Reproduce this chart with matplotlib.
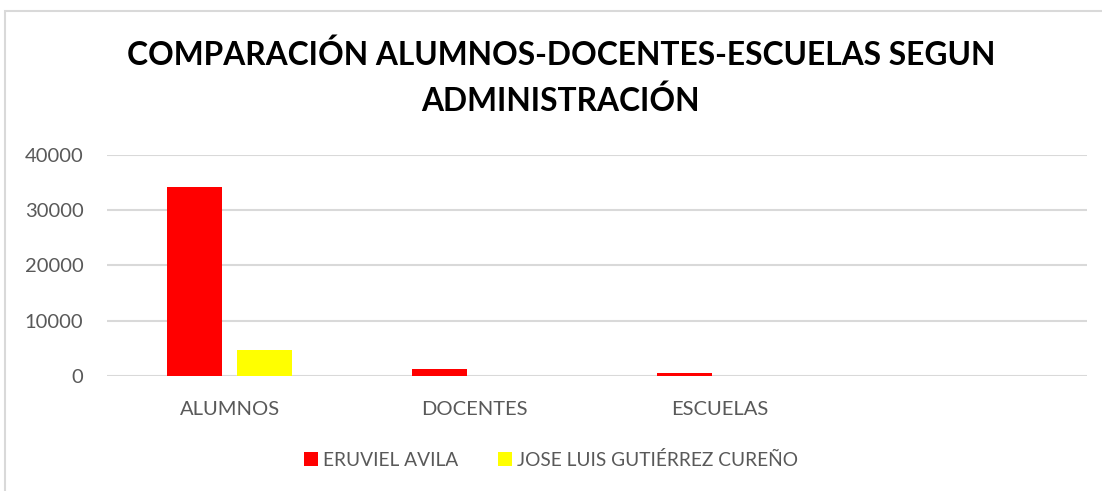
import matplotlib
matplotlib.use('Agg')
import matplotlib.pyplot as plt
import numpy as np
from matplotlib.patches import Rectangle

# values
categories = ['ALUMNOS', 'DOCENTES', 'ESCUELAS', '']
eruviel_avila = [34200, 1300, 500, 0]
gutierrez_cureno = [4600, 0, 0, 0]
series_names = ['ERUVIEL AVILA', 'JOSE LUIS GUTIÉRREZ CUREÑO']
y_ticks = [0, 10000, 20000, 30000, 40000]

red = '#ff0000'
yellow = '#ffff00'
text_grey = '#595959'
grid_grey = '#d9d9d9'

plt.rcParams['font.family'] = ['Lato', 'DejaVu Sans']

fig = plt.figure(figsize=(11.02, 4.91), dpi=100)
fig.patches.append(Rectangle((5 / 1102, -0.1), 1.2, 1 - 11 / 491 + 0.1, transform=fig.transFigure,
                             fill=False, edgecolor=grid_grey, linewidth=1.5))

ax = fig.add_axes([107 / 1102, 115.3 / 491, 980 / 1102, 220.7 / 491])

x = np.arange(len(categories))
bar_w = 0.2245
offset = 0.143
ax.bar(x - offset, eruviel_avila, bar_w, color=red, label=series_names[0], zorder=3)
ax.bar(x + offset, gutierrez_cureno, bar_w, color=yellow, label=series_names[1], zorder=3)

ax.set_xlim(-0.5, len(categories) - 0.5)
ax.set_ylim(0, 40000)
ax.set_yticks(y_ticks)
ax.set_yticklabels([str(v) for v in y_ticks])
ax.set_xticks(x)
ax.set_xticklabels(categories)
ax.grid(axis='y', color=grid_grey, linewidth=1.5, zorder=0)
ax.set_axisbelow(True)
for s in ax.spines.values():
    s.set_visible(False)
ax.tick_params(axis='both', length=0, colors=text_grey, labelsize=14.5)
ax.tick_params(axis='y', pad=17)
ax.tick_params(axis='x', pad=18)

fig.text(0.509, 0.842, 'COMPARACIÓN ALUMNOS-DOCENTES-ESCUELAS SEGUN\nADMINISTRACIÓN',
         ha='center', va='center', fontsize=22.9, fontweight='bold', color='black', linespacing=1.6)

leg = fig.legend(loc='center', bbox_to_anchor=(0.5, 0.063), ncol=2, frameon=False,
                 fontsize=13.8, handlelength=0.73, handleheight=0.73, handletextpad=0.26,
                 columnspacing=2.08)
for t in leg.get_texts():
    t.set_color(text_grey)

fig.savefig('out.png', dpi=100)
